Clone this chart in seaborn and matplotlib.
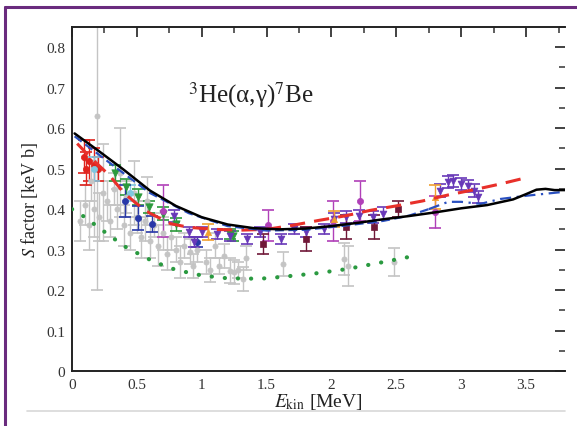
import numpy as np
import pandas as pd
import seaborn as sns
import matplotlib.pyplot as plt
from matplotlib.lines import Line2D
from matplotlib.ticker import MultipleLocator, FormatStrFormatter

# theory curves (E in MeV, S in keV b)
black_x = [0.02, 0.2, 0.4, 0.6, 0.8, 1.0, 1.2, 1.4, 1.6, 1.8, 2.0, 2.2, 2.4, 2.6, 2.8, 3.0, 3.2, 3.4, 3.5, 3.58, 3.65, 3.72, 3.8]
black_y = [0.587, 0.545, 0.497, 0.446, 0.408, 0.38, 0.362, 0.353, 0.350, 0.352, 0.358, 0.366, 0.375, 0.383, 0.392, 0.402, 0.41, 0.424, 0.437, 0.448, 0.45, 0.447, 0.447]
blue_x = [0.02, 0.3, 0.6, 0.9, 1.2, 1.5, 1.8, 2.1, 2.4, 2.6, 2.75]
blue_y = [0.58, 0.512, 0.44, 0.39, 0.358, 0.347, 0.349, 0.359, 0.371, 0.384, 0.40]
bluedd_x = [2.75, 2.9, 3.0, 3.15, 3.3, 3.5, 3.8]
bluedd_y = [0.40, 0.418, 0.418, 0.413, 0.425, 0.433, 0.443]
red_x = [0.04, 0.15, 0.29, 0.4, 0.5, 0.6, 0.76, 0.9, 1.1, 1.3, 1.5, 1.7, 1.9, 2.1, 2.3, 2.5, 2.7, 2.9, 3.1, 3.3, 3.48]
red_y = [0.562, 0.525, 0.483, 0.44, 0.413, 0.39, 0.364, 0.355, 0.35, 0.348, 0.35, 0.36, 0.372, 0.383, 0.397, 0.408, 0.42, 0.435, 0.448, 0.462, 0.476]
green_x = [0.0, 0.1, 0.22, 0.41, 0.63, 0.8, 1.0, 1.2, 1.45, 1.6, 1.9, 2.12, 2.38, 2.6]
green_y = [0.40, 0.38, 0.351, 0.307, 0.27, 0.25, 0.236, 0.229, 0.228, 0.232, 0.242, 0.252, 0.268, 0.282]

# measurements
grey_x = [0.06, 0.10, 0.13, 0.15, 0.17, 0.19, 0.21, 0.24, 0.27, 0.29, 0.32, 0.35, 0.37, 0.40, 0.42, 0.45, 0.48, 0.50, 0.53,
          0.56, 0.58, 0.60, 0.63, 0.66, 0.70, 0.73, 0.76, 0.80, 0.83, 0.86, 0.91, 0.93, 0.96, 1.03, 1.06, 1.10, 1.13,
          1.17, 1.22, 1.25, 1.28, 1.32, 1.34, 1.63, 2.10, 2.13, 2.48]
grey_y = [0.37, 0.41, 0.36, 0.47, 0.40, 0.63, 0.38, 0.44, 0.42, 0.37, 0.45, 0.40, 0.49, 0.36, 0.43, 0.34, 0.44, 0.38, 0.33,
          0.37, 0.42, 0.32, 0.36, 0.31, 0.34, 0.29, 0.33, 0.30, 0.27, 0.31, 0.295, 0.26, 0.30, 0.27, 0.25, 0.31, 0.26,
          0.285, 0.248, 0.245, 0.25, 0.228, 0.28, 0.265, 0.277, 0.26, 0.27]
grey_e = [0.05, 0.05, 0.06, 0.05, 0.07, 0.43, 0.06, 0.12, 0.05, 0.04, 0.04, 0.05, 0.11, 0.05, 0.04, 0.04, 0.08, 0.04, 0.05,
          0.05, 0.06, 0.04, 0.03, 0.05, 0.04, 0.04, 0.03, 0.03, 0.04, 0.03, 0.03, 0.03, 0.03, 0.03, 0.03, 0.03, 0.02,
          0.03, 0.03, 0.03, 0.02, 0.03, 0.03, 0.03, 0.04, 0.05, 0.035]

red_px = [0.09, 0.11, 0.13, 0.17, 0.20]
red_py = [0.53, 0.50, 0.52, 0.51, 0.50]
red_pe = [0.04, 0.04, 0.05, 0.04, 0.03]

cyan_px = [0.17, 0.45]
cyan_py = [0.50, 0.44]
cyan_pe = [0.03, 0.02]

green_px = [0.33, 0.42, 0.51, 0.59, 0.70, 0.80, 1.22, 1.24]
green_py = [0.49, 0.455, 0.43, 0.406, 0.389, 0.362, 0.339, 0.334]
green_pe = [0.02, 0.02, 0.02, 0.015, 0.015, 0.015, 0.012, 0.012]

navy_px = [0.41, 0.51, 0.62, 0.96]
navy_py = [0.42, 0.378, 0.364, 0.319]
navy_pe = [0.04, 0.03, 0.02, 0.012]

purple_px = [0.79, 0.90, 0.94, 1.00, 1.12, 1.22, 1.35, 1.45, 1.61, 1.71, 1.80, 1.94, 2.02, 2.11, 2.21, 2.32, 2.40,
             2.84, 2.90, 2.94, 3.00, 3.05, 3.10, 3.13]
purple_py = [0.384, 0.344, 0.319, 0.344, 0.339, 0.334, 0.327, 0.344, 0.327, 0.351, 0.344, 0.351, 0.376, 0.381, 0.384,
             0.381, 0.389, 0.446, 0.467, 0.47, 0.463, 0.458, 0.446, 0.43]
purple_pe = [0.015, 0.012, 0.012, 0.012, 0.012, 0.012, 0.012, 0.012, 0.012, 0.012, 0.012, 0.012, 0.015, 0.015, 0.015,
             0.015, 0.015, 0.015, 0.015, 0.015, 0.015, 0.015, 0.015, 0.015]

magenta_px = [0.70, 1.51, 2.01, 2.22, 2.80]
magenta_py = [0.395, 0.36, 0.37, 0.42, 0.393]
magenta_pe = [0.065, 0.038, 0.05, 0.05, 0.04]

maroon_px = [1.47, 1.80, 2.11, 2.33, 2.51]
maroon_py = [0.314, 0.327, 0.356, 0.356, 0.40]
maroon_pe = [0.025, 0.03, 0.03, 0.03, 0.02]

orange_px = [1.05, 2.02, 2.80]
orange_py = [0.344, 0.376, 0.43]
orange_pe = [0.02, 0.02, 0.03]

sns.set_theme(style='white')
plt.rcParams['font.family'] = ['Liberation Serif', 'DejaVu Serif']
plt.rcParams['mathtext.fontset'] = 'stix'

fig = plt.figure(figsize=(5.77, 4.27), dpi=100)
ax = fig.add_axes([72/577, 1-372/427, (565-72)/577, (372-28)/427])

def points(x, y, e, col, marker='o', ms=20, ecol=None):
    ax.errorbar(x, y, yerr=e, fmt='none', ecolor=ecol or col, elinewidth=1.0, capsize=4, capthick=1.2, zorder=2)
    sns.scatterplot(x=x, y=y, color=col, marker=marker, s=ms, edgecolor=col, linewidth=0.5, ax=ax, zorder=3)

points(grey_x, grey_y, grey_e, '#c4c4c4', ms=14)
points(red_px, red_py, red_pe, '#e0241e')
points(cyan_px, cyan_py, cyan_pe, '#7fc8e0')
points(green_px, green_py, green_pe, '#2c9a3c', marker='v', ms=28)
points(navy_px, navy_py, navy_pe, '#2838a8')
points(purple_px, purple_py, purple_pe, '#6838b8', marker='v', ms=24)
points(magenta_px, magenta_py, magenta_pe, '#b040b8')
points(maroon_px, maroon_py, maroon_pe, '#701838', marker='s', ms=16)
points(orange_px, orange_py, orange_pe, '#f0a030', marker='^', ms=20)

sns.lineplot(x=green_x, y=green_y, ax=ax, color='#2a9a40', lw=3.0, dashes=(0.05, 3.1),
             dash_capstyle='round', zorder=4)
sns.lineplot(x=red_x, y=red_y, ax=ax, color='#e8302a', lw=2.2, dashes=(5, 3), zorder=5)
sns.lineplot(x=blue_x, y=blue_y, ax=ax, color='#2a50c0', lw=1.6, dashes=(4, 2), zorder=5)
sns.lineplot(x=bluedd_x, y=bluedd_y, ax=ax, color='#2a50c0', lw=1.6, dashes=(5, 2.5, 1, 2.5), zorder=5)
sns.lineplot(x=black_x, y=black_y, ax=ax, color='black', lw=1.8, zorder=6)

ax.set_xlim(0, 3.8)
ax.set_ylim(0, 0.85)
ax.xaxis.set_major_locator(MultipleLocator(0.5))
ax.xaxis.set_minor_locator(MultipleLocator(0.25))
ax.yaxis.set_major_locator(MultipleLocator(0.1))
ax.yaxis.set_minor_locator(MultipleLocator(0.05))
ax.xaxis.set_major_formatter(FormatStrFormatter('%g'))
ax.yaxis.set_major_formatter(FormatStrFormatter('%g'))
ax.tick_params(which='both', direction='in', top=True, right=True, colors='#333333', labelcolor='#333333')
ax.tick_params(which='major', length=7, width=1.3, labelsize=11, pad=5)
ax.tick_params(which='minor', length=4, width=1.1)
for s in ['left', 'bottom', 'top']:
    ax.spines[s].set_color('#222222')
    ax.spines[s].set_linewidth(1.4)
ax.spines['right'].set_visible(False)

ax.set_xlabel(r'$E_{\rm kin}$ [MeV]', fontsize=14, color='#222222', labelpad=0)
ax.set_ylabel(r'$S$ factor [keV b]', fontsize=13, color='#222222', labelpad=4)
ax.text(1.38, 0.685, r'$^{3}$He(α,γ)$^{7}$Be', fontsize=18, ha='center', va='center', color='#222222')

# frame around the figure and the rule below
fig.add_artist(Line2D([5/577, 1], [1-8/427, 1-8/427], transform=fig.transFigure, color='#6a2c7e', lw=2.2))
fig.add_artist(Line2D([5/577, 5/577], [0, 1-8/427], transform=fig.transFigure, color='#6a2c7e', lw=2.2))
fig.add_artist(Line2D([27/577, 565/577], [1-412/427, 1-412/427], transform=fig.transFigure, color='#d8d8d8', lw=1.2))

fig.savefig('out.png', dpi=100)
